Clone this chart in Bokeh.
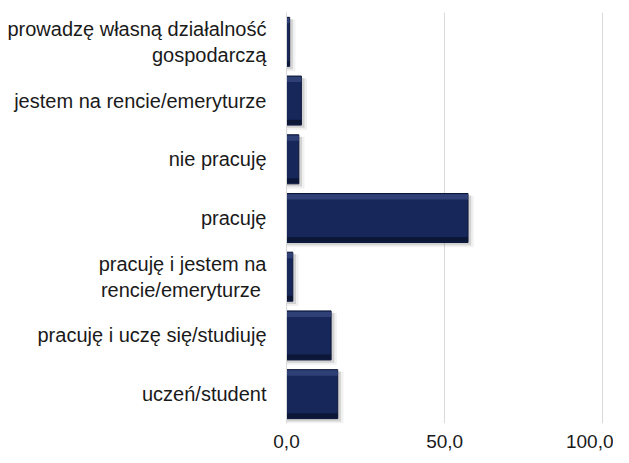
import numpy as np
from bokeh.plotting import figure
from bokeh.models import ColumnDataSource, FactorRange, Range1d, FixedTicker
from bokeh.transform import dodge
from bokeh.embed import file_html
from bokeh.resources import INLINE

# categories, top to bottom as in the chart
categories = [
    "prowadzę własną działalność\ngospodarczą",
    "jestem na rencie/emeryturze",
    "nie pracuję",
    "pracuję",
    "pracuję i jestem na\nrencie/emeryturze ",
    "pracuję i uczę się/studiuję",
    "uczeń/student",
]
values = [1.0, 4.7, 3.9, 57.4, 2.0, 14.1, 16.2]
x_ticks = [0, 50, 100]
x_tick_labels = ["0,0", "50,0", "100,0"]

FONT = "Liberation Sans"

v = np.array(values)
src = ColumnDataSource(dict(
    cat=categories,
    val=v,
    shadow_r=v + 1.0,
    shadow_r2=v + 1.8,
))

p = figure(
    width=613, height=457,
    y_range=FactorRange(*reversed(categories), range_padding=0),
    x_range=Range1d(0, 101.5),
    output_backend="svg", toolbar_location=None,
    min_border_left=286, min_border_top=12, min_border_right=6, min_border_bottom=34,
)
p.outline_line_color = None
p.background_fill_color = "white"

# gridlines
p.ygrid.grid_line_color = None
p.xgrid.grid_line_color = "#d9d9d9"
p.xgrid.grid_line_width = 1
p.xaxis.ticker = FixedTicker(ticks=x_ticks)
p.xaxis.major_label_overrides = {t: l for t, l in zip(x_ticks, x_tick_labels)}
p.xaxis.axis_line_color = None
p.xaxis.major_tick_line_color = None
p.xaxis.major_tick_out = 0
p.xaxis.major_tick_in = 0
p.xaxis.minor_tick_line_color = None
p.xaxis.major_label_text_font = FONT
p.xaxis.major_label_text_font_size = "19px"
p.xaxis.major_label_text_color = "#1a1a1a"
p.xaxis.major_label_standoff = 11

p.yaxis.axis_line_color = "#d9d9d9"
p.yaxis.major_tick_line_color = None
p.yaxis.major_tick_out = 0
p.yaxis.major_tick_in = 0
p.yaxis.minor_tick_line_color = None
p.yaxis.major_label_text_font = FONT
p.yaxis.major_label_text_font_size = "20px"
p.yaxis.major_label_text_color = "#1a1a1a"
p.yaxis.major_label_standoff = 20

# soft shadow layers
p.hbar(y=dodge("cat", -0.06, range=p.y_range), left=0, right="shadow_r2", height=0.88,
       source=src, fill_color="#7a7a7a", fill_alpha=0.10, line_color=None)
p.hbar(y=dodge("cat", -0.04, range=p.y_range), left=0, right="shadow_r", height=0.85,
       source=src, fill_color="#5a5a5a", fill_alpha=0.20, line_color=None)

# main bar
p.hbar(y="cat", left=0, right="val", height=0.835, source=src,
       fill_color="#17275a", line_color="#0c1636", line_width=1)
# bevel: light top, dark bottom
p.hbar(y=dodge("cat", 0.36, range=p.y_range), left=0, right="val", height=0.09,
       source=src, fill_color="#33457a", fill_alpha=0.85, line_color=None)
p.hbar(y=dodge("cat", -0.365, range=p.y_range), left=0, right="val", height=0.08,
       source=src, fill_color="#0b1533", fill_alpha=0.9, line_color=None)

open("out.html", "w").write(file_html(p, INLINE))
